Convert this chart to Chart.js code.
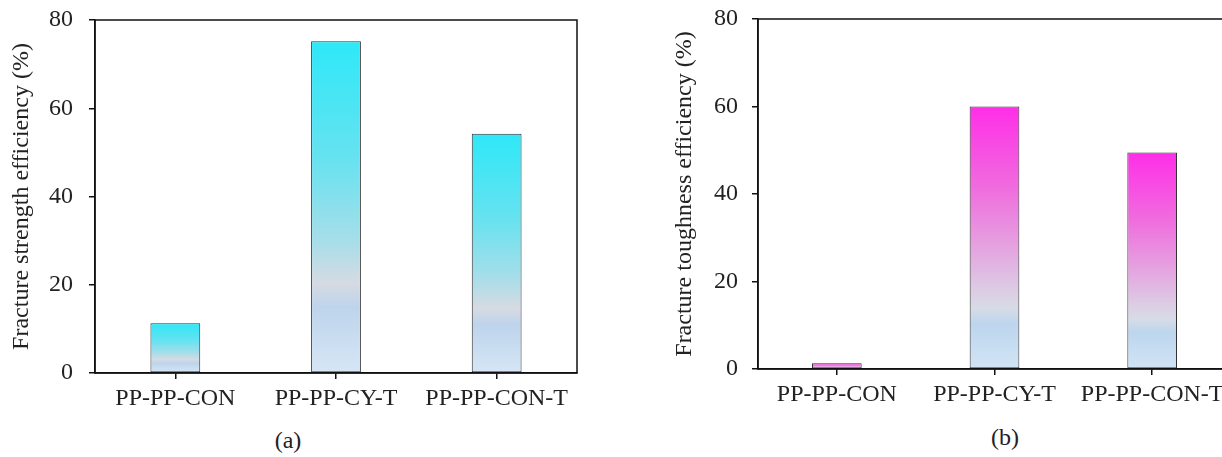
<!DOCTYPE html>
<html>
<head>
<meta charset="utf-8">
<script src="https://cdn.jsdelivr.net/npm/chart.js@4"></script>
<style>
  html, body { margin: 0; padding: 0; background: #fff; overflow: hidden; }
  body { width: 1222px; height: 457px; position: relative; }
  .box { position: absolute; top: 0; }
  #boxA { left: 0; width: 600px; height: 420px; }
  #boxB { left: 640px; width: 600px; height: 420px; }
  .panel { position: absolute; font-family: "Liberation Serif", "Times New Roman", serif;
           font-size: 24px; color: #222; transform: translate(-50%, -50%); }
</style>
</head>
<body>
<div class="box" id="boxA"><canvas id="chartA"></canvas></div>
<div class="box" id="boxB"><canvas id="chartB"></canvas></div>
<div class="panel" style="left:288px; top:440px;">(a)</div>
<div class="panel" style="left:1005px; top:437px;">(b)</div>

<script>
const samples = ["PP-PP-CON", "PP-PP-CY-T", "PP-PP-CON-T"];
const strengthEff = [11.3, 75.2, 54.2];
const toughnessEff = [1.3, 60.0, 49.5];
const yTicks = [0, 20, 40, 60, 80];

const FONT = "'Liberation Serif', 'Times New Roman', serif";
const INK = "#222";

// colour stops from bar top (0) to bar bottom (1)
const cyanStops = [
  [0, "#2ee8f8"], [0.35, "#66e2f0"], [0.6, "#a6dee9"],
  [0.73, "#d6dae2"], [0.8, "#bed4ec"], [1, "#d6e6f5"]
];
const pinkStops = [
  [0, "#ff2ee8"], [0.3, "#f06ade"], [0.55, "#e4a6e0"],
  [0.7, "#dccce4"], [0.77, "#d6dce6"], [0.83, "#bcd6ee"], [1, "#d2e4f5"]
];

function barFill(stops) {
  return ctx => {
    const chart = ctx.chart;
    if (!chart.chartArea || ctx.raw == null) return stops[0][1];
    const y = chart.scales.y;
    const top = y.getPixelForValue(ctx.raw);
    const bottom = y.getPixelForValue(0);
    const g = chart.ctx.createLinearGradient(0, top, 0, bottom);
    stops.forEach(s => g.addColorStop(s[0], s[1]));
    return g;
  };
}

// frame around the plot area
const frame = {
  id: "frame",
  afterDraw(chart) {
    const { ctx, chartArea: a } = chart;
    ctx.save();
    ctx.strokeStyle = "#111";
    ctx.lineWidth = 1.5;
    ctx.strokeRect(a.left, a.top, a.right - a.left, a.bottom - a.top);
    ctx.restore();
  }
};

function makeChart(id, values, stops, title, opt) {
  return new Chart(document.getElementById(id), {
    type: "bar",
    data: {
      labels: samples,
      datasets: [{
        data: values,
        backgroundColor: barFill(stops),
        borderColor: "#333",
        borderWidth: 1,
        borderSkipped: false,
        barPercentage: opt.bar,
        categoryPercentage: 1
      }]
    },
    options: {
      responsive: true,
      maintainAspectRatio: false,
      animation: false,
      layout: { padding: { left: 0, top: opt.top, right: opt.right, bottom: 0 } },
      plugins: { legend: { display: false }, tooltip: { enabled: false } },
      scales: {
        x: {
          afterFit: s => {
            s.height = 420 - opt.bottom;
            s.paddingLeft = 0; s.paddingRight = 0;
          },
          grid: { offset: false, drawOnChartArea: false, drawTicks: true, tickLength: 6, tickColor: "#111", lineWidth: 1.5 },
          border: { display: true, color: "#111", width: 1.5 },
          ticks: { color: INK, padding: 5, font: { family: FONT, size: 24 }, maxRotation: 0 }
        },
        y: {
          min: 0,
          max: 80,
          afterFit: s => {
            s.width = opt.axisX;
            s.paddingTop = 0; s.paddingBottom = 0;
          },
          afterBuildTicks: s => { s.ticks = yTicks.map(v => ({ value: v })); },
          grid: { drawOnChartArea: false, drawTicks: true, tickLength: 6, tickColor: "#111", lineWidth: 1.5 },
          border: { display: true, color: "#111", width: 1.5 },
          ticks: { color: INK, padding: opt.tickPad, font: { family: FONT, size: 24 } },
          title: {
            display: true,
            text: title,
            color: INK,
            font: { family: FONT, size: 24 },
            padding: { top: opt.titlePad, bottom: 0 }
          }
        }
      }
    },
    plugins: [frame]
  });
}

makeChart("chartA", strengthEff, cyanStops, "Fracture strength efficiency (%)",
  { top: 20, right: 23, bottom: 373, axisX: 95, bar: 0.31, tickPad: 16, titlePad: 7 });

makeChart("chartB", toughnessEff, pinkStops, "Fracture toughness efficiency (%)",
  { top: 19, right: 9, bottom: 369, axisX: 118, bar: 0.315, tickPad: 14, titlePad: 30 });
</script>
</body>
</html>
